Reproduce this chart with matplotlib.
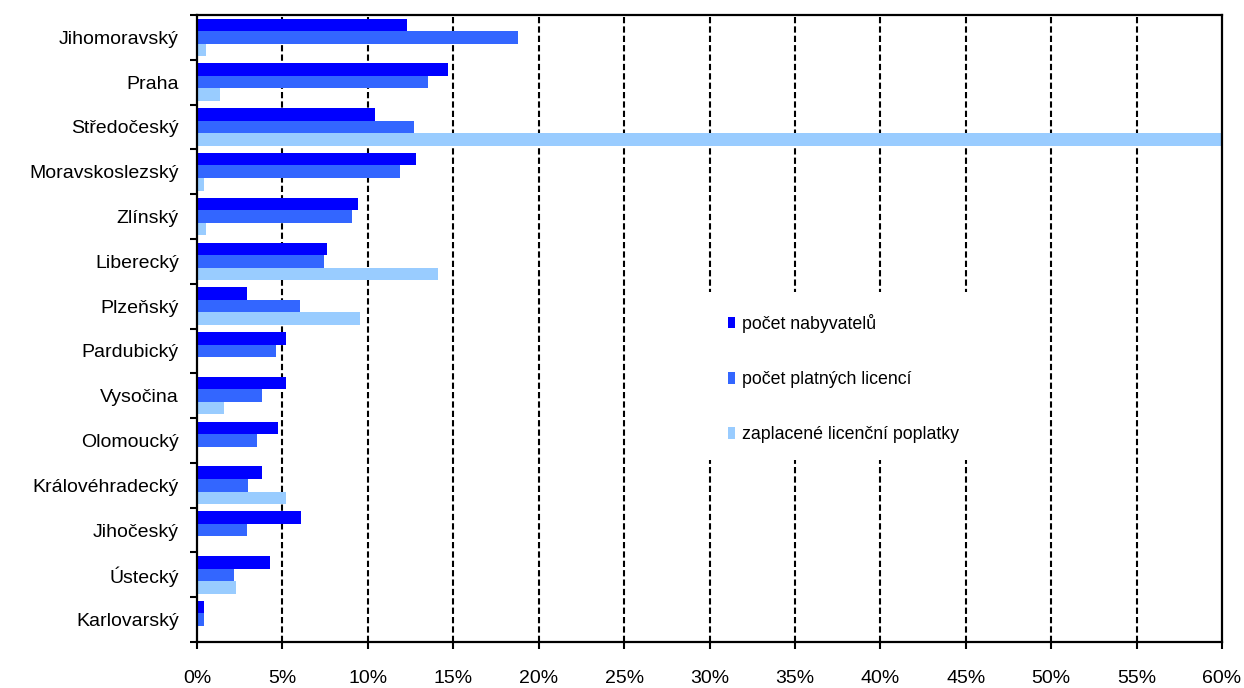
import matplotlib
matplotlib.use("Agg")
import matplotlib.pyplot as plt
from matplotlib.ticker import FixedLocator, PercentFormatter
from matplotlib.patches import Rectangle
import numpy as np

plt.rcParams['font.family'] = ['Liberation Sans', 'DejaVu Sans']

regions = ["Jihomoravský", "Praha", "Středočeský", "Moravskoslezský", "Zlínský",
           "Liberecký", "Plzeňský", "Pardubický", "Vysočina", "Olomoucký",
           "Královéhradecký", "Jihočeský", "Ústecký", "Karlovarský"]
nabyvatelu = [12.3, 14.7, 10.4, 12.8, 9.4, 7.6, 2.9, 5.2, 5.2, 4.75, 3.8, 6.1, 4.3, 0.4]
licenci = [18.8, 13.5, 12.7, 11.9, 9.1, 7.45, 6.0, 4.6, 3.8, 3.5, 3.0, 2.9, 2.15, 0.4]
poplatky = [0.5, 1.35, 60.5, 0.4, 0.5, 14.1, 9.55, 0.0, 1.6, 0.0, 5.2, 0.0, 2.3, 0.0]
series_labels = ["počet nabyvatelů", "počet platných licencí", "zaplacené licenční poplatky"]
colors = ["#0000FF", "#3366FF", "#99CCFF"]
xticks = [0, 5, 10, 15, 20, 25, 30, 35, 40, 45, 50, 55, 60]

fig = plt.figure(figsize=(12.44, 6.88), dpi=100)
ax = fig.add_axes([197/1244, 46/688, 1025/1244, 627/688])

y = np.arange(len(regions))
h = 0.28
for k, (vals, lab, c) in enumerate(zip([nabyvatelu, licenci, poplatky], series_labels, colors)):
    ax.barh(y + (k - 1) * h, vals, height=h, color=c, label=lab, zorder=3, clip_on=True)

ax.set_xlim(0, 60)
ax.set_ylim(len(regions) - 0.5, -0.5)

ax.xaxis.set_major_locator(FixedLocator(xticks))
ax.xaxis.set_major_formatter(PercentFormatter(decimals=0))
for xv in xticks[1:-1]:
    ax.axvline(xv, color='black', lw=1.5, ls=(0, (3.0, 1.5)), zorder=1)

# white legend background that hides the gridlines
ax.add_patch(Rectangle((0.492, 0.29), 0.29, 0.268, transform=ax.transAxes,
                       facecolor='white', edgecolor='none', zorder=2))

ax.yaxis.set_major_locator(FixedLocator(np.arange(len(regions) + 1) - 0.5))
ax.yaxis.set_major_formatter(plt.NullFormatter())
ax.set_yticks(y, minor=True)
ax.set_yticklabels(regions, minor=True)
ax.tick_params(axis='y', which='minor', length=0, pad=13, labelsize=14)
ax.tick_params(axis='y', which='major', direction='out', length=5, width=1.5)
ax.tick_params(axis='x', which='major', direction='out', length=5, width=1.5, pad=15, labelsize=14)

for s in ax.spines.values():
    s.set_linewidth(1.6)
    s.set_zorder(5)

leg = ax.legend(loc='center left', bbox_to_anchor=(0.518, 0.42), fontsize=12.8, frameon=False,
                handlelength=0.4, handleheight=0.6, handletextpad=0.4,
                labelspacing=2.15, borderpad=0, borderaxespad=0)
leg.set_zorder(4)

fig.savefig("out.png", dpi=100)
